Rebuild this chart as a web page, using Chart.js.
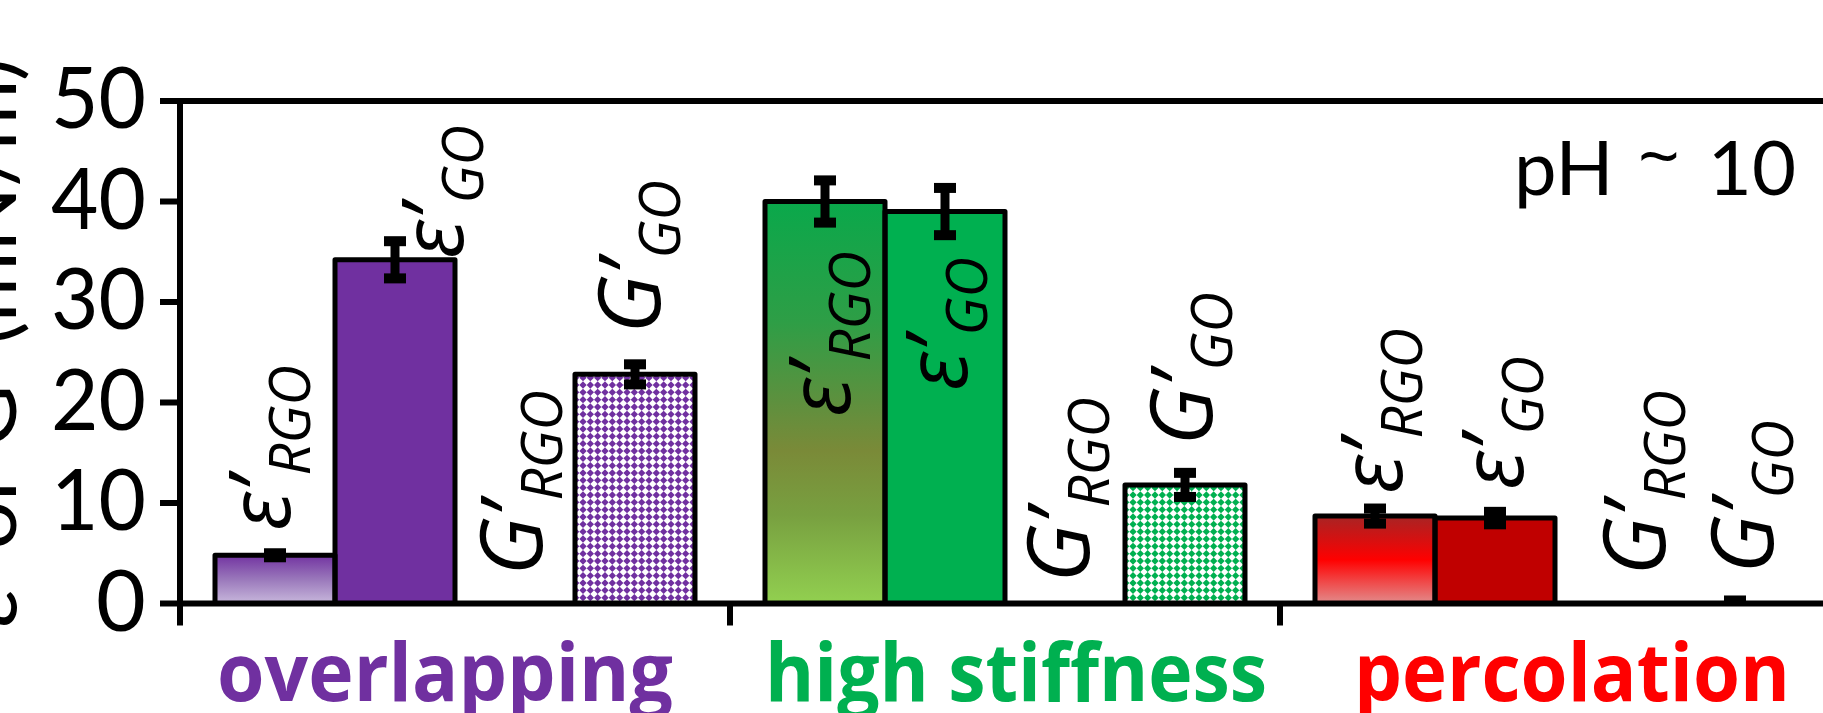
<!DOCTYPE html>
<html>
<head>
<meta charset="utf-8">
<script src="https://cdn.jsdelivr.net/npm/chart.js@4/dist/chart.umd.min.js"></script>
<style>
  html, body { margin: 0; padding: 0; overflow: hidden; background: #fff; }
  #wrap { position: relative; width: 1830px; height: 713px; }
  canvas { display: block; }
</style>
</head>
<body>
<div id="wrap"><canvas id="chart" width="1830" height="713"></canvas></div>
<script>
// ---- data ----
const categories = ['overlapping', 'high stiffness', 'percolation'];
const categoryColors = ['#7030A0', '#00B050', '#FF0000'];
const yTicks = [0, 10, 20, 30, 40, 50];
const yTitle = 'ε’ or G’ (mN/m)';
const panelNote = ['pH', '~', '10'];

const seriesMain = ['ε’', 'ε’', 'G’', 'G’'];
const seriesSub = ['RGO', 'GO', 'RGO', 'GO'];

const epsRGO    = [4.8, 40.0, 8.7];
const epsRGOErr = [0.2, 2.1, 0.75];
const epsGO     = [34.2, 39.0, 8.5];
const epsGOErr  = [1.85, 2.35, 0.62];
const gRGO      = [0, 0, 0];
const gRGOErr   = [0, 0, 0];
const gGO       = [22.8, 11.8, 0];
const gGOErr    = [1.0, 1.2, 0.3];

// ---- styling / layout ----
const PLOT = { left: 180, top: 101, bottom: 603.5 };
const AXIS_W = 6, BAR_W = 5, TICK_LEN = 20, XTICK_LEN = 22;

const solidFill = ['#7030A0', '#00B050', '#C00000'];
const gradientStops = [
  [[0, '#7233a1'], [0.5, '#9a78bb'], [1, '#c8b8dc']],
  [[0, '#0aa84b'], [0.3, '#2e9e46'], [0.5, '#5e903e'], [0.62, '#7a8a38'],
   [0.78, '#78a040'], [1, '#92d050']],
  [[0, '#a82424'], [0.25, '#d21212'], [0.5, '#ff0000'], [0.75, '#f04848'], [1, '#e28c8c']]
];

// rotated series labels: baseline shift from bar centre (px) and rise above the axis (px)
const labelPlace = [
  [{ dx: 15, rise: 73 }, { dx: 68, rise: 345 }, { dx: 27, rise: 28 }, { dx: 25, rise: 270 }],
  [{ dx: 25, rise: 187 }, { dx: 22, rise: 213 }, { dx: 24, rise: 21 }, { dx: 27, rise: 158 }],
  [{ dx: 27, rise: 110 }, { dx: 28, rise: 114 }, { dx: 50, rise: 28 }, { dx: 38, rise: 30 }]
];
const categoryLabelDx = [-10, 11, 17];
const categoryLabelWidth = [456, 502, 436];

function diamondPattern(ctx, color) {
  const s = 22, n = 3, p = s / n, r = p * 0.5;
  const c = document.createElement('canvas');
  c.width = c.height = s;
  const g = c.getContext('2d');
  g.fillStyle = '#ffffff';
  g.fillRect(0, 0, s, s);
  g.fillStyle = color;
  for (let i = 0; i < n; i++) {
    for (let j = 0; j < n; j++) {
      const cx = p * (i + 0.5), cy = p * (j + 0.5);
      g.beginPath();
      g.moveTo(cx, cy - r); g.lineTo(cx + r, cy); g.lineTo(cx, cy + r); g.lineTo(cx - r, cy);
      g.closePath(); g.fill();
    }
  }
  return ctx.createPattern(c, 'repeat');
}

function barGradient(c, stops) {
  const chart = c.chart, ys = chart.scales && chart.scales.y;
  if (!chart.chartArea || !ys) return stops[0][1];
  const top = ys.getPixelForValue(c.raw), base = ys.getPixelForValue(0);
  if (!(base > top)) return stops[0][1];
  const g = chart.ctx.createLinearGradient(0, top, 0, base);
  stops.forEach(([o, col]) => g.addColorStop(o, col));
  return g;
}

function drawSeriesLabel(ctx, x, y, main, sub) {
  ctx.save();
  ctx.translate(x, y);
  ctx.rotate(-Math.PI / 2);
  ctx.fillStyle = '#000';
  ctx.textAlign = 'left';
  ctx.textBaseline = 'alphabetic';
  ctx.font = 'italic 86px "Open Sans"';
  ctx.fillText(main, 0, 0);
  const w = ctx.measureText(main).width;
  ctx.font = 'italic 56px "Open Sans"';
  ctx.fillText(sub, w + 2, 20);
  ctx.restore();
}

const errs = [epsRGOErr, epsGOErr, gRGOErr, gGOErr];

const decor = {
  id: 'decor',
  afterDatasetsDraw(chart) {
    const { ctx, chartArea: a, scales: { x, y } } = chart;
    const W = chart.width;

    // bar outlines, centred on the bar edges
    ctx.save();
    ctx.lineWidth = BAR_W;
    ctx.strokeStyle = '#000';
    ctx.lineJoin = 'round';
    chart.data.datasets.forEach((ds, i) => {
      chart.getDatasetMeta(i).data.forEach((el, j) => {
        if (!(ds.data[j] > 0)) return;
        const p = el.getProps(['x', 'y', 'base', 'width'], true);
        ctx.strokeRect(p.x - p.width / 2, p.y, p.width, p.base - p.y);
      });
    });
    ctx.restore();

    // axes frame and ticks
    ctx.save();
    ctx.strokeStyle = '#000';
    ctx.lineWidth = AXIS_W;
    ctx.lineCap = 'butt';
    ctx.beginPath();
    ctx.moveTo(a.left - TICK_LEN, a.top); ctx.lineTo(W, a.top);
    ctx.moveTo(a.left - TICK_LEN, a.bottom); ctx.lineTo(W, a.bottom);
    ctx.moveTo(a.left, a.top - AXIS_W / 2); ctx.lineTo(a.left, a.bottom + XTICK_LEN);
    yTicks.forEach(v => {
      const py = y.getPixelForValue(v);
      ctx.moveTo(a.left - TICK_LEN, py); ctx.lineTo(a.left, py);
    });
    const half = (x.getPixelForValue(1) - x.getPixelForValue(0)) / 2;
    categories.forEach((_, k) => {
      const px = x.getPixelForValue(k) - half;
      ctx.moveTo(px, a.bottom); ctx.lineTo(px, a.bottom + XTICK_LEN);
    });
    ctx.stroke();
    ctx.restore();

    // error bars
    ctx.save();
    ctx.beginPath();
    ctx.rect(a.left, 0, a.right - a.left, a.bottom);
    ctx.clip();
    ctx.fillStyle = '#000';
    chart.data.datasets.forEach((ds, i) => {
      chart.getDatasetMeta(i).data.forEach((el, j) => {
        const e = errs[i][j];
        if (!(e > 0)) return;
        const v = ds.data[j];
        const cx = el.getProps(['x'], true).x;
        const yt = y.getPixelForValue(v + e), yb = y.getPixelForValue(v - e);
        ctx.fillRect(cx - 4.5, yt, 9, yb - yt);
        ctx.fillRect(cx - 11, yt - 5, 22, 10);
        ctx.fillRect(cx - 11, yb - 5, 22, 10);
      });
    });
    ctx.restore();

    // series labels above / inside the bars
    chart.data.datasets.forEach((ds, i) => {
      chart.getDatasetMeta(i).data.forEach((el, j) => {
        const pl = labelPlace[j][i];
        const cx = el.getProps(['x'], true).x;
        drawSeriesLabel(ctx, cx + pl.dx, a.bottom - pl.rise, seriesMain[i], seriesSub[i]);
      });
    });

    // y tick labels
    ctx.save();
    ctx.fillStyle = '#000';
    ctx.font = '86px Lato';
    ctx.textAlign = 'right';
    ctx.textBaseline = 'alphabetic';
    yTicks.forEach(v => {
      ctx.fillText(String(v), 146, y.getPixelForValue(v) + 27, 95);
    });
    ctx.restore();

    // category labels
    ctx.save();
    ctx.font = 'bold 80px "Open Sans"';
    ctx.textAlign = 'center';
    ctx.textBaseline = 'alphabetic';
    categories.forEach((c, k) => {
      ctx.fillStyle = categoryColors[k];
      ctx.fillText(c, x.getPixelForValue(k) + categoryLabelDx[k], 701, categoryLabelWidth[k]);
    });
    ctx.restore();

    // y axis title (rotated, runs off the left edge)
    ctx.save();
    ctx.translate(16, 58);
    ctx.rotate(-Math.PI / 2);
    ctx.font = '86px Lato';
    ctx.fillStyle = '#000';
    ctx.textAlign = 'right';
    ctx.textBaseline = 'alphabetic';
    ctx.fillText(yTitle, 0, 0);
    ctx.restore();

    // panel note
    ctx.save();
    ctx.fillStyle = '#000';
    ctx.textBaseline = 'alphabetic';
    ctx.font = '76px Lato';
    ctx.textAlign = 'left';
    ctx.fillText(panelNote[0], 1514, 195);
    ctx.font = '74px "Open Sans"';
    ctx.textAlign = 'center';
    ctx.fillText(panelNote[1], 1659, 182);
    ctx.font = '76px Lato';
    ctx.textAlign = 'right';
    ctx.fillText(panelNote[2], 1796, 195);
    ctx.restore();
  }
};

function build() {
  const canvas = document.getElementById('chart');
  const ctx = canvas.getContext('2d');
  const patterns = [diamondPattern(ctx, '#7030A0'), diamondPattern(ctx, '#00B050'), diamondPattern(ctx, '#C00000')];

  new Chart(canvas, {
    type: 'bar',
    data: {
      labels: categories,
      datasets: [
        { label: 'ε’RGO', data: epsRGO, backgroundColor: c => barGradient(c, gradientStops[c.dataIndex]) },
        { label: 'ε’GO', data: epsGO, backgroundColor: solidFill },
        { label: 'G’RGO', data: gRGO, backgroundColor: 'rgba(0,0,0,0)' },
        { label: 'G’GO', data: gGO, backgroundColor: patterns }
      ]
    },
    options: {
      responsive: false,
      animation: false,
      devicePixelRatio: 1,
      layout: { padding: { left: PLOT.left, top: PLOT.top, right: 0, bottom: 713 - PLOT.bottom } },
      datasets: { bar: { categoryPercentage: 480 / 550, barPercentage: 1, borderWidth: 0 } },
      plugins: { legend: { display: false }, tooltip: { enabled: false } },
      scales: {
        x: { display: false },
        y: { display: false, min: 0, max: 50 }
      }
    },
    plugins: [decor]
  });
}

const fontList = ['86px Lato', '76px Lato', 'bold 80px "Open Sans"', '74px "Open Sans"', 'italic 86px "Open Sans"', 'italic 56px "Open Sans"'];
Promise.all(fontList.map(f => document.fonts.load(f))).catch(() => {}).then(build);
</script>
</body>
</html>
